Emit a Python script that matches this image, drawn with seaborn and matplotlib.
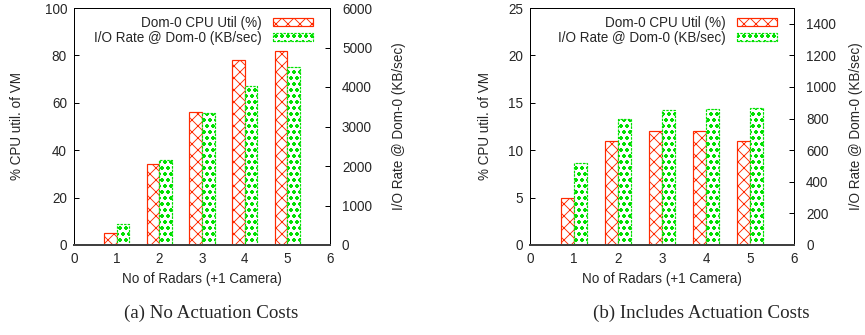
import numpy as np
import pandas as pd
import matplotlib
matplotlib.use("Agg")
import matplotlib.pyplot as plt
from matplotlib.patches import Patch
import seaborn as sns

# ---------------- data ----------------
radars = [0, 1, 2, 3, 4, 5, 6]
cpu_a = [0, 5, 34, 56, 78, 82, 0]
io_a = [0, 530, 2150, 3330, 4025, 4500, 0]
cpu_b = [0, 5, 11, 12, 12, 11, 0]
io_b = [0, 520, 800, 855, 860, 865, 0]

cpu_label = "Dom-0 CPU Util (%)"
io_label = "I/O Rate @ Dom-0 (KB/sec)"
xlabel = "No of Radars (+1 Camera)"
ylabel_left = "% CPU util. of VM"
ylabel_right = "I/O Rate @ Dom-0 (KB/sec)"
captions = ["(a) No Actuation Costs", "(b) Includes Actuation Costs"]
left_ticks = [[0, 20, 40, 60, 80, 100], [0, 5, 10, 15, 20, 25]]
right_ticks = [[0, 1000, 2000, 3000, 4000, 5000, 6000],
               [0, 200, 400, 600, 800, 1000, 1200, 1400]]
left_lim = [100, 25]
right_lim = [6000, 1500]

RED = "#ff2a00"
GREEN = "#00e000"
BAR_W = 0.3
RED_HATCH = "xx"
GREEN_HATCH = "oo.."

sns.set_theme(style="white")
plt.rcParams["font.family"] = ["Liberation Sans", "DejaVu Sans"]
plt.rcParams["hatch.linewidth"] = 0.9
FS = 13.5

DPI = 72
fig = plt.figure(figsize=(865 / DPI, 335 / DPI), dpi=DPI)
W, H = 865, 335
axes_px = [(74, 8, 256, 237), (530, 8, 264, 237)]


def style_bars(ax, color, hatch, ls):
    for p in ax.patches:
        p.set_facecolor("white")
        p.set_hatch(hatch)
        p.set_linewidth(1.2)
        p.set_linestyle(ls)
        p.set_edgecolor(color)


datasets = [(cpu_a, io_a), (cpu_b, io_b)]
for i, (cpu, io) in enumerate(datasets):
    x0, y0, w, h = axes_px[i]
    ax = fig.add_axes([x0 / W, 1 - (y0 + h) / H, w / W, h / H])
    ax2 = ax.twinx()

    df = pd.DataFrame({"radars": radars, "cpu": cpu, "io": io})
    df["pos_cpu"] = df["radars"] - BAR_W / 2
    df["pos_io"] = df["radars"] + BAR_W / 2

    sns.barplot(data=df, x="pos_cpu", y="cpu", native_scale=True, width=BAR_W,
                errorbar=None, ax=ax, color=RED)
    style_bars(ax, RED, RED_HATCH, "-")
    sns.barplot(data=df, x="pos_io", y="io", native_scale=True, width=BAR_W,
                errorbar=None, ax=ax2, color=GREEN)
    style_bars(ax2, GREEN, GREEN_HATCH, (0, (2, 1)))

    ax.set_xlim(0, 6)
    ax2.set_xlim(0, 6)
    ax.set_ylim(0, left_lim[i])
    ax2.set_ylim(0, right_lim[i])
    ax.set_xticks(radars)
    ax.set_xticklabels([str(r) for r in radars], fontsize=FS)
    ax.set_yticks(left_ticks[i])
    ax.set_yticklabels([str(t) for t in left_ticks[i]], fontsize=FS)
    ax2.set_yticks(right_ticks[i])
    ax2.set_yticklabels([str(t) for t in right_ticks[i]], fontsize=FS)

    ax.tick_params(axis="y", direction="in", length=5, width=1, color="black",
                   pad=7, left=True, right=False)
    ax.tick_params(axis="x", length=0, pad=7)
    ax2.tick_params(axis="y", direction="in", length=5, width=1, color="black",
                    pad=12, right=True, left=False)

    ax.set_xlabel(xlabel, fontsize=FS, labelpad=6)
    ax.set_ylabel(ylabel_left, fontsize=FS, labelpad=20 if i == 0 else 16)
    ax2.set_ylabel(ylabel_right, fontsize=FS, labelpad=20 if i == 0 else 13)

    for a in (ax, ax2):
        for s in a.spines.values():
            s.set_color("black")
            s.set_linewidth(1.0)
        a.spines["bottom"].set_color("#404040")
        a.spines["bottom"].set_linewidth(2.0)
        a.grid(False)

    handles = [Patch(facecolor="white", edgecolor=RED, hatch=RED_HATCH, linewidth=1.2),
               Patch(facecolor="white", edgecolor=GREEN, hatch=GREEN_HATCH, linewidth=1.2,
                     linestyle=(0, (2, 1)))]
    ax2.legend(handles, [cpu_label, io_label], loc="upper right",
               bbox_to_anchor=(1 - 17 / w, 1 - 8 / h), frameon=False,
               markerfirst=False, fontsize=FS, handlelength=3.0,
               handleheight=0.55, labelspacing=0.08, handletextpad=0.8,
               borderpad=0, borderaxespad=0)

    fig.text([211, 701][i] / W, 1 - 313 / H, captions[i], ha="center",
             va="center", fontsize=19, family=["Liberation Serif"])

fig.savefig("out.png", dpi=DPI)
